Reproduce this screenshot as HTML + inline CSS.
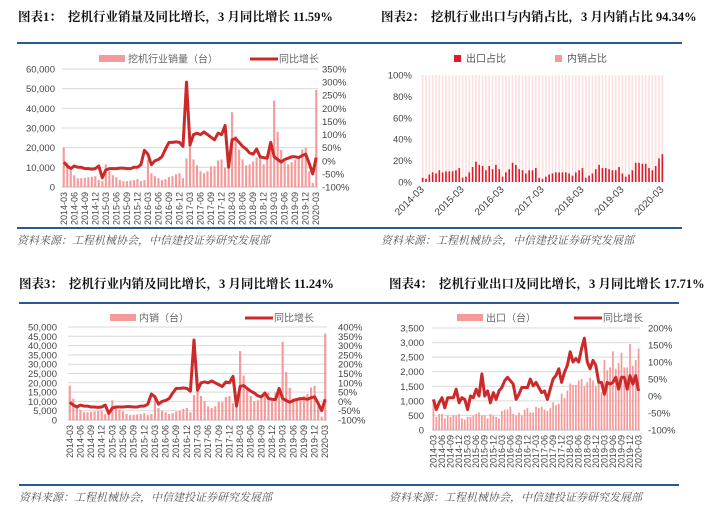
<!DOCTYPE html>
<html><head><meta charset="utf-8"><style>
body{margin:0;background:#fff;width:709px;height:512px;overflow:hidden;}
svg{display:block}
.t{font-family:"Liberation Serif","Noto Serif CJK SC",serif;font-weight:bold;font-size:12.5px;fill:#111}
.a{font-family:"Liberation Sans","Noto Sans CJK SC",sans-serif;font-size:9.5px;fill:#444}
.s{font-family:"Liberation Serif","Noto Serif CJK SC",serif;font-style:italic;font-size:11px;fill:#555}
</style></head><body>
<svg id="g" width="709" height="512" xmlns="http://www.w3.org/2000/svg"></svg>
<script>
function fit(a){a=a.slice(0,73);while(a.length<73)a.push(a[a.length-1]);return a;}
const sales=fit([20000,12500,8500,6000,4500,4500,4700,5000,5200,5500,3500,3000,11500,8000,6000,5000,3500,3000,3000,3300,3500,4000,3000,3500,14000,7000,5500,4500,3500,4000,5000,5500,6500,7000,4500,14500,25000,14000,11000,8000,7000,8000,10500,10500,13500,14000,9800,14500,38000,26000,19000,14000,11000,11500,13000,15000,16000,11500,16000,19000,44000,28000,18800,12600,11500,12600,14000,15200,19000,20000,8000,2000,49400]);
const gr=fit([-5,-20,-30,-20,-25,-25,-30,-30,-32,-30,-20,-65,-35,-30,-30,-30,-28,-28,-30,-30,-25,-25,-15,40,25,-15,0,5,15,45,70,70,72,70,55,300,60,100,105,100,110,100,90,80,105,100,135,-25,80,85,70,55,45,30,25,45,15,12,10,70,15,5,-5,5,10,15,15,12,20,25,-10,-50,12]);
const share=fit([4,3,7,9,8,11,9,10,10,10,11,13,4,5,9,14,19,16,15,11,15,12,16,12,5,9,12,18,16,12,11,8,11,11,13,4,3,5,7,8,9,9,9,9,8,6,9,11,13,4,6,8,12,16,13,13,12,11,11,14,8,5,7,11,18,18,17,17,13,11,15,22,26,6]);
const dom=sales.map((v,i)=>i==72?46500:(i==60?42000:(i==48?37000:v*0.92)));
const exp=fit([950,450,550,550,400,500,450,500,500,550,400,350,450,450,500,550,600,500,500,400,550,500,450,400,650,700,700,800,550,500,600,500,700,750,600,600,800,750,800,700,650,750,950,850,900,1250,1100,1350,1600,1550,1550,1700,1750,1500,1650,1800,1700,1500,1700,1300,2400,2050,2150,2700,2100,2300,2650,2150,2150,2950,2200,2400,2800]);
const eg=fit([-10,-40,-20,-5,-35,-5,-5,-5,20,-20,-5,-10,-40,0,-5,20,0,65,0,15,-20,10,-10,15,25,45,55,45,35,-10,5,25,25,25,50,30,40,25,10,15,-10,20,50,60,80,40,70,90,130,100,110,100,140,170,100,80,105,90,40,40,5,40,35,40,55,20,55,55,20,60,35,60,15]);
const lab=[];for(let i=0;i<73;i++){const y=2014+Math.floor((i+2)/12),m=(i+2)%12+1;lab.push(y+'-'+(m<10?'0':'')+m);}
let h='';
function T(x,y,s,c,ex){h+=`<text x="${x}" y="${y}" class="${c}" ${ex||''}>${s}</text>`;}
function L(x1,y1,x2,y2,st){h+=`<line x1="${x1}" y1="${y1}" x2="${x2}" y2="${y2}" style="${st}"/>`;}
function chart(o){
 const w=(o.x2-o.x1)/73;
 const yl=v=>o.yb-(v-o.lmin)/(o.lmax-o.lmin)*(o.yb-o.yt);
 const yr=v=>o.yb-(v-o.rmin)/(o.rmax-o.rmin)*(o.yb-o.yt);
 for(let k=0;k<o.lt.length;k++){const v=o.lt[k],y=yl(v);if(o.grid)L(o.x1,y,o.x2,y,'stroke:#d9d9d9;stroke-width:1');T(o.lx,y+3.5,v.toLocaleString('en-US'),'a','text-anchor="end"');}
 for(let k=0;k<o.rt.length;k++){const v=o.rt[k];T(o.rx,yr(v)+3.5,v+'%','a');}
 L(o.x1,o.yb,o.x2,o.yb,'stroke:#bbb;stroke-width:1');
 for(let i=0;i<73;i++){const v=o.bar[i];const y=yl(v);h+=`<rect x="${o.x1+i*w+w*0.2}" y="${y}" width="${w*0.6}" height="${o.yb-y}" fill="#f59a9a"/>`;}
 let p='';for(let i=0;i<73;i++){p+=(i?'L':'M')+(o.x1+(i+0.5)*w).toFixed(1)+','+yr(o.line[i]).toFixed(1);}
 h+=`<path d="${p}" fill="none" stroke="#cc2a2a" stroke-width="3" stroke-linejoin="round"/>`;
 for(let i=0;i<73;i+=3){const x=o.x1+(i+0.5)*w+3;T(x,o.yb+5,lab[i],'a',`text-anchor="end" transform="rotate(-90 ${x} ${o.yb+5})" style="font-size:9px"`);}
 h+=`<rect x="${o.lgx}" y="${o.lgy-4}" width="26" height="7" fill="#f59a9a"/>`;T(o.lgx+29,o.lgy+3.5,o.bn,'a','style="fill:#666;font-size:10px"');
 L(o.lgx2,o.lgy,o.lgx2+28,o.lgy,'stroke:#cc2a2a;stroke-width:3');T(o.lgx2+29,o.lgy+3.5,'同比增长','a','style="fill:#666;font-size:10px"');
}
// titles, rules, sources
T(18,21,'图表1：&#160;&#160;挖机行业销量及同比增长，3 月同比增长 11.59%','t');
T(381,21,'图表2：&#160;&#160;挖机行业出口与内销占比，3 月内销占比 94.34%','t');
T(19,288,'图表3：&#160;&#160;挖机行业内销及同比增长，3 月同比增长 11.24%','t');
T(389,288,'图表4：&#160;&#160;挖机行业出口及同比增长，3 月同比增长 17.71%','t');
L(17,43,354,43,'stroke:#2a5a94;stroke-width:2');L(354,43,682,43,'stroke:#2a5a94;stroke-width:2');
L(17,228,354,228,'stroke:#2a5a94;stroke-width:2');L(354,228,682,228,'stroke:#2a5a94;stroke-width:2');
L(19,303,354,303,'stroke:#2a5a94;stroke-width:2');L(354,303,679,303,'stroke:#2a5a94;stroke-width:2');
L(19,485,354,485,'stroke:#2a5a94;stroke-width:2');L(354,485,679,485,'stroke:#2a5a94;stroke-width:2');
T(17,244,'资料来源：工程机械协会，中信建投证券研究发展部','s');
T(381,244,'资料来源：工程机械协会，中信建投证券研究发展部','s');
T(19,501,'资料来源：工程机械协会，中信建投证券研究发展部','s');
T(389,501,'资料来源：工程机械协会，中信建投证券研究发展部','s');
chart({x1:62,x2:318,yt:69,yb:187,lmin:0,lmax:60000,rmin:-100,rmax:350,lt:[0,10000,20000,30000,40000,50000,60000],rt:[-100,-50,0,50,100,150,200,250,300,350],lx:55,rx:322,grid:1,bar:sales,line:gr,lgx:99,lgy:59,bn:'挖机行业销量（台）',lgx2:250});
chart({x1:68,x2:327,yt:327,yb:420,lmin:0,lmax:50000,rmin:-100,rmax:400,lt:[0,5000,10000,15000,20000,25000,30000,35000,40000,45000,50000],rt:[-100,-50,0,50,100,150,200,250,300,350,400],lx:57,rx:338,grid:1,bar:dom,line:gr.map((v,i)=>i==35?330:v),lgx:110,lgy:318,bn:'内销（台）',lgx2:245});
chart({x1:432,x2:640,yt:328,yb:430,lmin:0,lmax:3500,rmin:-100,rmax:200,lt:[0,500,1000,1500,2000,2500,3000,3500],rt:[-100,-50,0,50,100,150,200],lx:424,rx:648,grid:1,bar:exp,line:eg,lgx:457,lgy:318,bn:'出口（台）',lgx2:574});
// chart 2
(function(){const x1=421,x2=664,yt=75,yb=182,w=(x2-x1)/73;
[0,20,40,60,80,100].forEach(v=>{const y=yb-v/100*(yb-yt);T(412,y+3.5,v+'%','a','text-anchor="end"');});
for(let i=0;i<73;i++){const x=x1+i*w+w*0.25,bw=w*0.5,e=share[i]/100*(yb-yt);h+=`<rect x="${x}" y="${yt}" width="${bw}" height="${yb-yt-e}" fill="#fde0e0"/><rect x="${x}" y="${yb-e}" width="${bw}" height="${e}" fill="#dc1c28"/>`;}
for(let i=0;i<73;i+=12){const x=x1+(i+0.5)*w+2;T(x,yb+8,lab[i],'a',`text-anchor="end" transform="rotate(-45 ${x} ${yb+8})" style="font-size:10px"`);}
h+=`<rect x="454" y="55" width="7" height="7" fill="#dc1c28"/>`;T(466,62,'出口占比','a','style="fill:#555;font-size:10px"');
h+=`<rect x="555" y="55" width="7" height="7" fill="#f59a9a"/>`;T(567,62,'内销占比','a','style="fill:#555;font-size:10px"');
})();
document.getElementById('g').innerHTML=h;
</script>
</body></html>
